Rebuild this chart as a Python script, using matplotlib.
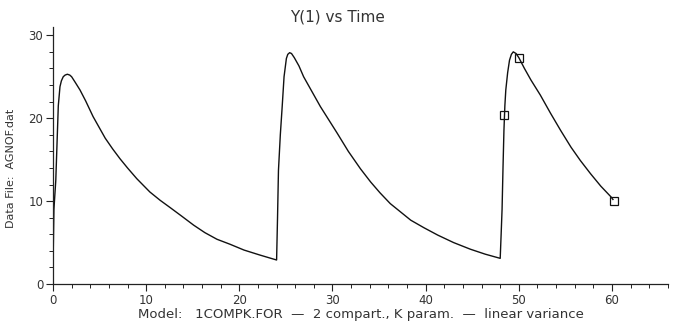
import matplotlib
matplotlib.use("Agg")
import matplotlib.pyplot as plt
from matplotlib.ticker import MultipleLocator

# model curve (time in h, concentration)
t_fit = [0.0, 0.1, 0.3, 0.45, 0.57, 0.75, 0.9, 1.1, 1.3, 1.54, 1.8, 2.0, 2.4, 2.9,
         3.5, 4.3, 5.0, 5.6, 6.4, 7.2, 8.0, 9.0, 10.4, 11.5, 12.6, 13.8, 15.1,
         16.3, 17.6, 19.0, 20.5, 22.2, 24.0,
         24.1, 24.2, 24.4, 24.6, 24.8, 25.05, 25.2, 25.4, 25.6, 25.9, 26.4, 26.9,
         27.8, 28.7, 29.6, 30.5, 31.7, 33.0, 34.1, 35.1, 36.2, 37.3, 38.4, 39.8,
         41.3, 43.0, 44.8, 46.4, 48.0,
         48.1, 48.2, 48.3, 48.4, 48.5, 48.6, 48.8, 49.0, 49.2, 49.4, 49.7, 50.0,
         50.6, 51.3, 52.3, 53.4, 54.5, 55.6, 56.6, 57.7, 58.8, 59.9, 60.1]
y_fit = [1.9, 9.0, 12.5, 17.5, 21.5, 23.8, 24.5, 25.0, 25.2, 25.3, 25.2, 25.0, 24.3, 23.4,
         22.1, 20.2, 18.8, 17.6, 16.3, 15.1, 14.0, 12.7, 11.1, 10.1, 9.2, 8.2, 7.1,
         6.2, 5.4, 4.8, 4.1, 3.5, 2.9,
         8.0, 13.7, 18.0, 21.4, 25.0, 27.2, 27.7, 27.9, 27.8, 27.3, 26.3, 25.0,
         23.2, 21.4, 19.8, 18.2, 16.0, 13.9, 12.3, 11.0, 9.7, 8.7, 7.7, 6.8,
         5.9, 5.0, 4.2, 3.6, 3.1,
         6.0, 9.0, 14.0, 18.5, 21.5, 23.4, 25.5, 27.0, 27.7, 28.0, 27.8, 27.3,
         26.0, 24.6, 22.8, 20.6, 18.5, 16.5, 14.9, 13.3, 11.8, 10.5, 10.2]

# observed points
t_obs = [48.4, 50.0, 60.2]
y_obs = [20.4, 27.2, 10.0]

txt = "#333333"
plt.rcParams['font.family'] = ['DejaVu Sans']

fig = plt.figure(figsize=(6.75, 3.25), dpi=100)
ax = fig.add_axes([0.0785, 0.126, 0.911, 0.791])

ax.plot(t_fit, y_fit, color="#111111", lw=1.0)
ax.plot(t_obs, y_obs, ls="none", marker="s", ms=5.5, mfc="none",
        mec="#111111", mew=0.9)

ax.set_xlim(0, 66)
ax.set_ylim(0, 31)
ax.xaxis.set_major_locator(MultipleLocator(10))
ax.xaxis.set_minor_locator(MultipleLocator(2))
ax.yaxis.set_major_locator(MultipleLocator(10))
ax.yaxis.set_minor_locator(MultipleLocator(2))

for s in ["top", "right"]:
    ax.spines[s].set_visible(False)
for s in ["left", "bottom"]:
    ax.spines[s].set_color("#222222")
    ax.spines[s].set_linewidth(0.9)

ax.tick_params(which="major", direction="out", length=5, width=0.8,
               colors="#222222", labelcolor=txt, labelsize=8.5, pad=2)
ax.tick_params(which="minor", direction="out", length=3, width=0.7,
               colors="#222222")

fig.text(0.5, 0.948, "Y(1) vs Time", ha="center", va="center",
         fontsize=11, color=txt)
ax.set_xlabel("Model:   1COMPK.FOR  \u2014  2 compart., K param.  \u2014  linear variance",
              fontsize=9.5, color=txt, labelpad=1)
fig.text(0.016, 0.483, "Data File:  AGNOF.dat", rotation=90, ha="center",
         va="center", fontsize=8, color=txt)

fig.savefig("out.png", dpi=100)
